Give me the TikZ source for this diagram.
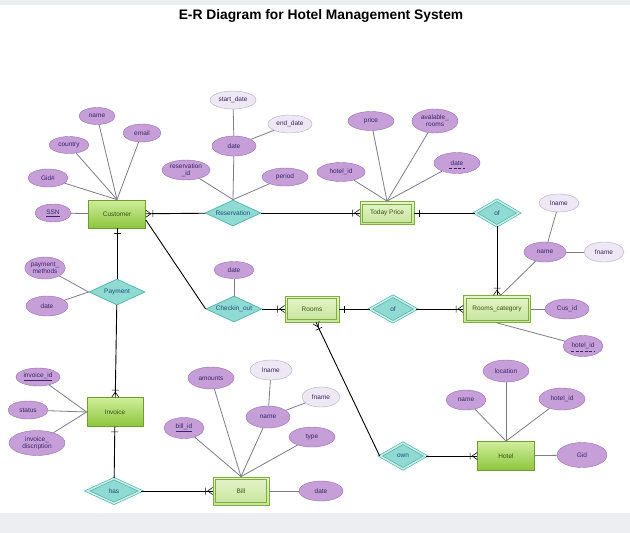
\documentclass[tikz,border=0pt]{standalone}
\usepackage{fontspec}
\setmainfont{Liberation Sans}
\usepackage{tikz}
\usetikzlibrary{shapes.geometric, decorations.markings}
\definecolor{attrfill}{HTML}{C69FD9}
\definecolor{attrdraw}{HTML}{9A6DB3}
\definecolor{attrtext}{HTML}{3A2466}
\definecolor{subfill}{HTML}{EEE8F4}
\definecolor{subdraw}{HTML}{B9AACB}
\definecolor{relfill}{HTML}{8FDAD3}
\definecolor{reldraw}{HTML}{4FB3A9}
\definecolor{reltext}{HTML}{1F4E79}
\definecolor{enttop}{HTML}{CFEE9A}
\definecolor{entbot}{HTML}{8DC53E}
\definecolor{entdraw}{HTML}{6E9F2C}
\definecolor{enttext}{HTML}{35521A}
\definecolor{weaktop}{HTML}{E6F5CA}
\definecolor{weakbot}{HTML}{C6E39A}
\definecolor{weakdraw}{HTML}{7EAF3C}
\definecolor{linegray}{HTML}{7C7C8C}
\definecolor{bandgray}{HTML}{EDEEF1}
\tikzset{
  every node/.style = {font = \fontsize{6.5}{7}\selectfont},
  attr/.style = {ellipse, draw = attrdraw, fill = attrfill, text = attrtext, inner sep = 0pt, align = center},
  subattr/.style = {attr, draw = subdraw, fill = subfill},
  ent/.style = {draw = entdraw, line width = 0.8pt, top color = enttop, bottom color = entbot, text = enttext, inner sep = 0pt},
  weak/.style = {draw = weakdraw, top color = weaktop, bottom color = weakbot, line width = 0.8pt, text = enttext, inner sep = 0pt,
    path picture = {\draw[weakdraw, line width = 0.8pt] ([shift = {(2.6pt, -2.6pt)}]path picture bounding box.north west)
      rectangle ([shift = {(-2.6pt, 2.6pt)}]path picture bounding box.south east);}},
  rel/.style = {diamond, aspect = 2.2, draw = reldraw, fill = relfill, line width = 0.7pt, text = reltext, inner sep = 0pt},
  weakrel/.style = {rel, double = relfill!45!white, double distance = 1.5pt},
  attrline/.style = {draw = linegray, line width = 0.8pt},
  relline/.style = {draw = black, line width = 0.9pt},
  partkey/.style = {draw = attrtext, dashed, dash pattern = on 3pt off 1.5pt, line width = 0.4pt},
  manyend/.style = {postaction = {decorate, decoration = {markings, mark = at position 1 with
    {\draw[black, line width = 0.6pt] (-5pt, 0pt) -- (0pt, 3.5pt) (-5pt, 0pt) -- (0pt, -3.5pt) (-7pt, -3.5pt) -- (-7pt, 3.5pt);}}}},
  onestart/.style = {postaction = {decorate, decoration = {markings, mark = at position 5pt with
    {\draw[black, line width = 0.6pt] (0pt, -3.5pt) -- (0pt, 3.5pt);}}}}
}

\begin{document}
\begin{tikzpicture}[x = 1pt, y = -1pt]
\fill[bandgray] (0, 0) rectangle (630, 533);
\fill[white] (0, 5) rectangle (630, 513);
\useasboundingbox (0, 0) rectangle (630, 533);

\node[font = \bfseries\fontsize{13.8}{15}\selectfont] (title) at (321, 16) {E-R Diagram for Hotel Management System};

% entities
\node[ent, minimum width = 57pt, minimum height = 28pt] (cust) at (117, 214) {Customer};
\node[weak, minimum width = 54pt, minimum height = 23pt] (today) at (387, 213) {Today Price};
\node[weak, minimum width = 67pt, minimum height = 27pt] (rcat) at (497, 309) {Rooms\_category};
\node[weak, minimum width = 54pt, minimum height = 26pt] (rooms) at (312, 309) {Rooms};
\node[ent, minimum width = 56pt, minimum height = 29pt] (inv) at (115, 412) {Invoice};
\node[weak, minimum width = 56pt, minimum height = 28pt] (bill) at (241, 491) {Bill};
\node[ent, minimum width = 57pt, minimum height = 29pt] (hotel) at (506, 456) {Hotel};

% relationships
\node[rel, minimum width = 56pt, minimum height = 26pt] (res) at (233, 213) {Reservation};
\node[weakrel, minimum width = 44pt, minimum height = 26pt] (of1) at (497, 213) {of};
\node[rel, minimum width = 56pt, minimum height = 26pt] (chk) at (234, 309) {Checkin\_out};
\node[weakrel, minimum width = 46pt, minimum height = 26pt] (of2) at (393, 309) {of};
\node[rel, minimum width = 56pt, minimum height = 26pt] (pay) at (117, 292) {Payment};
\node[weakrel, minimum width = 54pt, minimum height = 25pt] (has) at (114, 491) {has};
\node[weakrel, minimum width = 46pt, minimum height = 26pt] (own) at (403, 456) {own};

% attributes
\node[attr, minimum width = 36pt, minimum height = 17pt] (cname) at (97, 116) {name};
\node[attr, minimum width = 38pt, minimum height = 18pt] (cemail) at (142, 133) {email};
\node[attr, minimum width = 40pt, minimum height = 17pt] (ccountry) at (69, 145) {country};
\node[attr, minimum width = 40pt, minimum height = 18pt] (cgid) at (48, 178) {Gid\#};
\node[attr, minimum width = 36pt, minimum height = 18pt] (cssn) at (53, 213) {\underline{SSN}};

\node[subattr, minimum width = 46pt, minimum height = 18pt] (rstart) at (233, 100) {start\_date};
\node[subattr, minimum width = 44pt, minimum height = 18pt] (rend) at (290, 124) {end\_date};
\node[attr, minimum width = 44pt, minimum height = 20pt] (rdate) at (234, 146) {date};
\node[attr, minimum width = 48pt, minimum height = 20pt] (rid) at (186, 170) {reservation\\\_id};
\node[attr, minimum width = 46pt, minimum height = 18pt] (rperiod) at (285, 177) {period};

\node[attr, minimum width = 46pt, minimum height = 19pt] (tprice) at (371, 121) {price};
\node[attr, minimum width = 46pt, minimum height = 24pt] (trooms) at (435, 121) {avalable\_\\rooms};
\node[attr, minimum width = 48pt, minimum height = 19pt] (thid) at (341, 172) {hotel\_id};
\node[attr, minimum width = 46pt, minimum height = 21pt] (tdate) at (457, 163) {date};
\draw[partkey] ([xshift = -8pt, yshift = -5pt]tdate.center) -- ++(16, 0);

\node[subattr, minimum width = 40pt, minimum height = 18pt] (klname) at (559, 203) {lname};
\node[attr, minimum width = 42pt, minimum height = 20pt] (kname) at (545, 252) {name};
\node[subattr, minimum width = 40pt, minimum height = 20pt] (kfname) at (604, 252) {fname};
\node[attr, minimum width = 44pt, minimum height = 20pt] (kcus) at (567, 309) {Cus\_id};
\node[attr, minimum width = 40pt, minimum height = 21pt] (khid) at (583, 346) {hotel\_id};
\draw[partkey] ([xshift = -12pt, yshift = -5pt]khid.center) -- ++(24, 0);

\node[attr, minimum width = 40pt, minimum height = 17pt] (odate) at (234, 270) {date};

\node[attr, minimum width = 40pt, minimum height = 22pt] (pmeth) at (45, 268) {payment\_\\methods};
\node[attr, minimum width = 42pt, minimum height = 20pt] (pdate) at (47, 306) {date};

\node[attr, minimum width = 44pt, minimum height = 18pt] (iid) at (38, 377) {\underline{invoice\_id}};
\node[attr, minimum width = 40pt, minimum height = 18pt] (istat) at (28, 410) {status};
\node[attr, minimum width = 56pt, minimum height = 25pt] (idesc) at (37, 443) {invoice\_\\discription};

\node[attr, minimum width = 46pt, minimum height = 22pt] (bamt) at (211, 378) {amounts};
\node[attr, minimum width = 40pt, minimum height = 21pt] (bid) at (184, 428) {\underline{bill\_id}};
\node[subattr, minimum width = 42pt, minimum height = 20pt] (blname) at (271, 370) {lname};
\node[subattr, minimum width = 38pt, minimum height = 20pt] (bfname) at (321, 397) {fname};
\node[attr, minimum width = 44pt, minimum height = 22pt] (bname) at (268, 417) {name};
\node[attr, minimum width = 46pt, minimum height = 20pt] (btype) at (312, 437) {type};
\node[attr, minimum width = 44pt, minimum height = 20pt] (bdate) at (321, 491) {date};

\node[attr, minimum width = 46pt, minimum height = 22pt] (hloc) at (506, 371) {location};
\node[attr, minimum width = 40pt, minimum height = 20pt] (hname) at (466, 400) {name};
\node[attr, minimum width = 46pt, minimum height = 22pt] (hid) at (562, 399) {hotel\_id};
\node[attr, minimum width = 50pt, minimum height = 25pt] (hgid) at (582, 455) {Gid};

% attribute lines
\foreach \a in {cname, cemail, ccountry, cgid} \draw[attrline] (\a) -- (cust.north);
\draw[attrline] (cssn) -- (cust);
\foreach \a in {rdate, rid, rperiod} \draw[attrline] (\a) -- (res.north);
\draw[attrline] (rstart) -- (rdate);
\draw[attrline] (rend) -- (rdate);
\foreach \a in {tprice, trooms, thid, tdate} \draw[attrline] (\a) -- (today.north);
\draw[attrline] (kname) -- ([xshift = 4pt]rcat.north);
\draw[attrline] (klname) -- (kname);
\draw[attrline] (kfname) -- (kname);
\draw[attrline] (kcus) -- (rcat);
\draw[attrline] (khid) -- (rcat.south);
\draw[attrline] (odate) -- (chk.north);
\foreach \a in {pmeth, pdate} \draw[attrline] (\a) -- (pay.west);
\foreach \a in {iid, istat, idesc} \draw[attrline] (\a) -- (inv.west);
\foreach \a in {bamt, bid, bname, btype} \draw[attrline] (\a) -- (bill.north);
\draw[attrline] (blname) -- (bname);
\draw[attrline] (bfname) -- (bname);
\draw[attrline] (bdate) -- (bill);
\foreach \a in {hloc, hname, hid} \draw[attrline] (\a) -- (hotel.north);
\draw[attrline] (hgid) -- (hotel);

% relationship lines
\draw[relline, manyend] (res) -- (cust);
\draw[relline, manyend] (res) -- (today);
\draw[relline, onestart] (today) -- (of1);
\draw[relline, manyend] (of1) -- (rcat);
\draw[relline, onestart] (cust) -- (pay);
\draw[relline, manyend] (pay) -- (inv);
\draw[relline] ([yshift = -6pt]cust.east) -- (chk.west);
\draw[relline, manyend] (chk) -- (rooms);
\draw[relline, onestart] (rooms) -- (of2);
\draw[relline, manyend] (of2) -- (rcat);
\draw[relline, manyend] (own.west) -- ([xshift = 4pt]rooms.south);
\draw[relline, manyend] (own) -- (hotel);
\draw[relline, onestart] (inv) -- (has);
\draw[relline, manyend] (has) -- (bill);

\end{tikzpicture}
\end{document}
